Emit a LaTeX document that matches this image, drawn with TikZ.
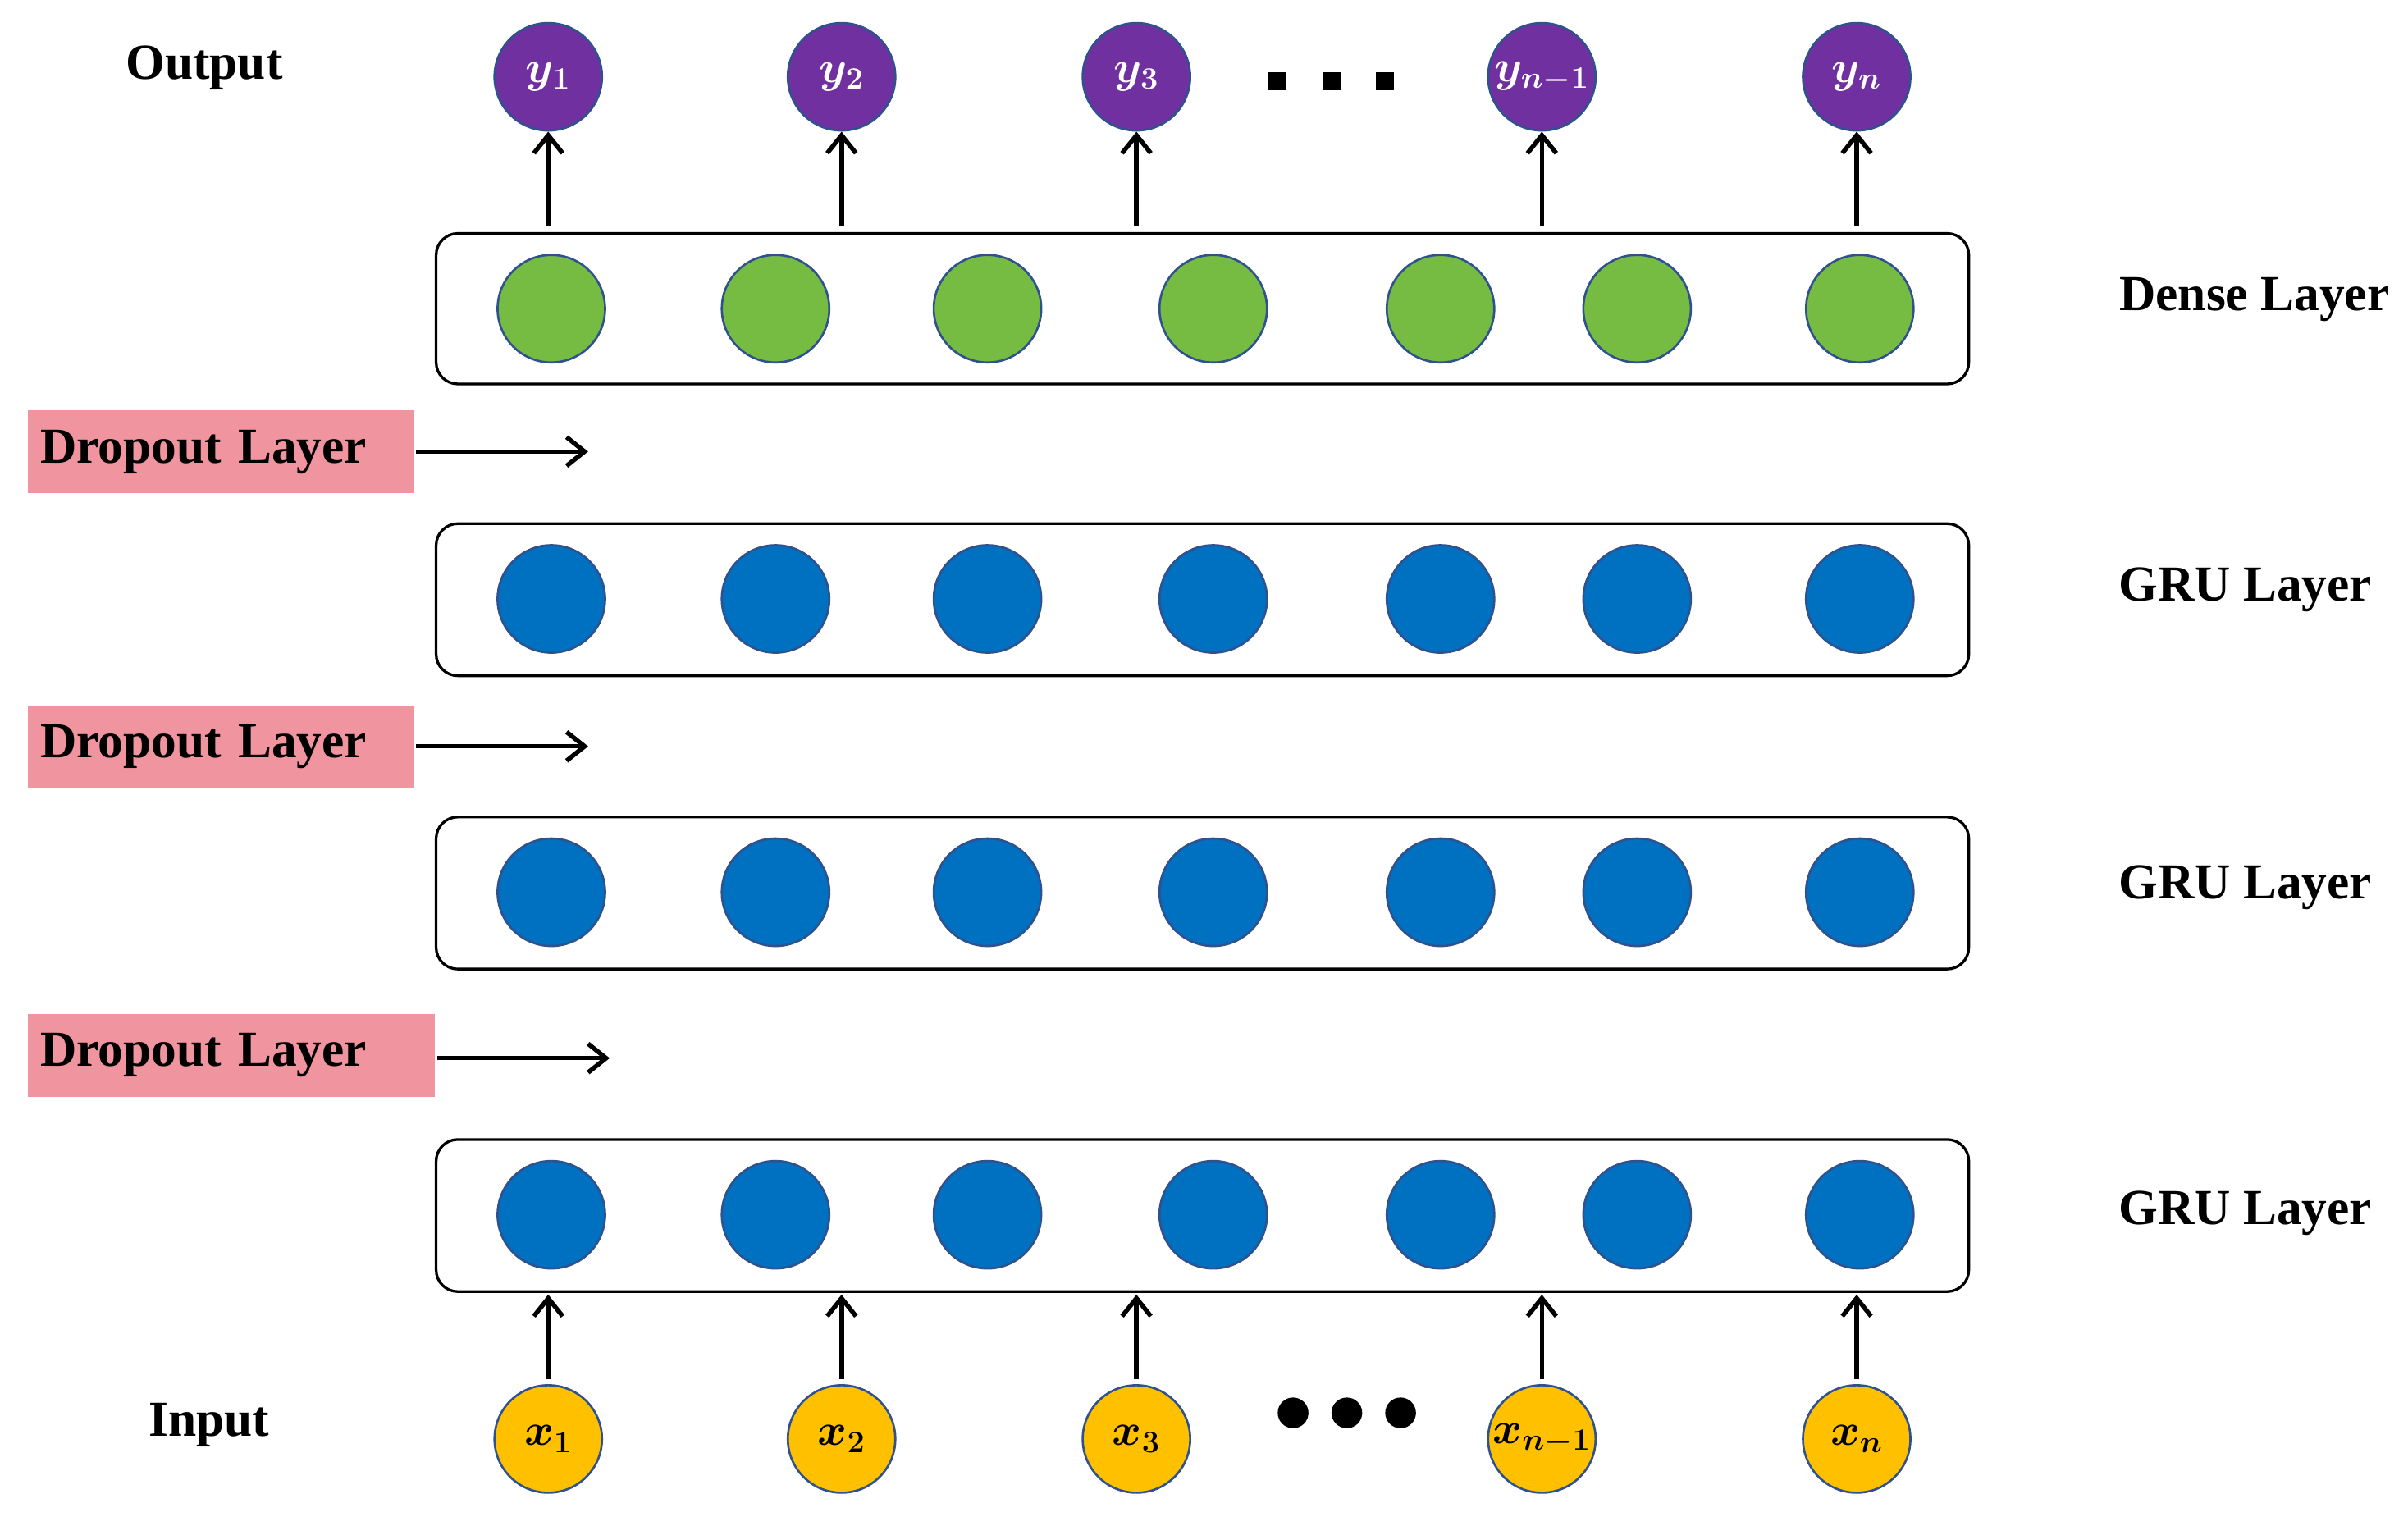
\documentclass[tikz,border=0pt]{standalone}
\usepackage{fontspec}
\setmainfont{Liberation Serif}
\usetikzlibrary{arrows.meta}
\definecolor{gr}{HTML}{76BC43}
\definecolor{bl}{HTML}{0070C0}
\definecolor{pu}{HTML}{7030A0}
\definecolor{ye}{HTML}{FFC000}
\definecolor{pk}{HTML}{F0959F}
\definecolor{edge}{HTML}{2F528F}
\begin{document}
\begin{tikzpicture}[x=0.03cm,y=-0.03cm,
  lbl/.style={font=\fontsize{28}{32}\selectfont\bfseries},
  cell/.style={circle,draw=edge,line width=1.2pt,minimum size=70*0.03cm,inner sep=0},
  io/.style={circle,draw=edge,line width=1.2pt,minimum size=70*0.03cm,inner sep=0,font=\fontsize{26}{30}\selectfont\boldmath},
  layer/.style={draw,rounded corners=12pt,line width=1.5pt},
  arr/.style={-{Straight Barb[length=10pt,width=16pt]},line width=2.5pt},
  drop/.style={fill=pk,anchor=north west,inner sep=0,font=\fontsize{28}{32}\selectfont\bfseries}]
\useasboundingbox (0,0) rectangle (1568,993.6);
% layers
\foreach \n/\t/\b in {dense/152/250,g1/341/440,g2/532/631,g3/742/841}
  \node[layer,minimum width=998*0.03cm,minimum height={(\b-\t)*0.03cm}] (\n) at (783,{(\t+\b)/2}) {};
\foreach \i/\x in {1/359,2/505,3/643,4/790,5/938,6/1066,7/1211}{
  \node[cell,fill=gr] (d\i) at (\x,201) {};
  \node[cell,fill=bl] (a\i) at (\x,390) {};
  \node[cell,fill=bl] (b\i) at (\x,581) {};
  \node[cell,fill=bl] (c\i) at (\x,791) {};
}
% outputs/inputs
\foreach \i/\x/\s in {1/357/1,2/548/2,3/740/3,4/1004/{n-1},5/1209/n}{
  \node[io,fill=pu,text=white] (y\i) at (\x,50) {$y_{\s}$};
  \node[io,fill=ye,text=black] (x\i) at (\x,937) {$x_{\s}$};
  \coordinate (ys\i) at (\x,147);
  \coordinate (xs\i) at (\x,898);
  \coordinate (xe\i) at (\x,843);
  \draw[arr] (ys\i) -- (y\i);
  \draw[arr] (xs\i) -- (xe\i);
}
\foreach \i/\x in {1/832,2/867,3/902}{
  \node[fill=black,minimum size=10pt,inner sep=0] (sq\i) at (\x,53) {};
  \node[circle,fill=black,minimum size=20*0.03cm,inner sep=0] (dt\i) at (\x+10,920) {};
}
% labels
\node[lbl] (out) at (133,44) {Output};
\node[lbl] (in) at (136,928) {Input};
\node[lbl] (ld) at (1468,195) {Dense Layer};
\node[lbl] (l1) at (1462,384) {GRU Layer};
\node[lbl] (l2) at (1462,578) {GRU Layer};
\node[lbl] (l3) at (1462,790) {GRU Layer};
% dropouts
\foreach \n/\t/\r/\ay in {p1/267/269/294,p2/459/269/486,p3/660/283/689}{
  \node[drop,minimum width={(\r-18)*0.03cm},minimum height=54*0.03cm,text width={(\r-18-16)*0.03cm},align=left] (\n) at (18,\t) {Dropout Layer};
  \coordinate (\n e) at (\r+114,\ay);
  \draw[arr] (\r+2,\ay) -- (\n e);
}
\end{tikzpicture}
\end{document}
